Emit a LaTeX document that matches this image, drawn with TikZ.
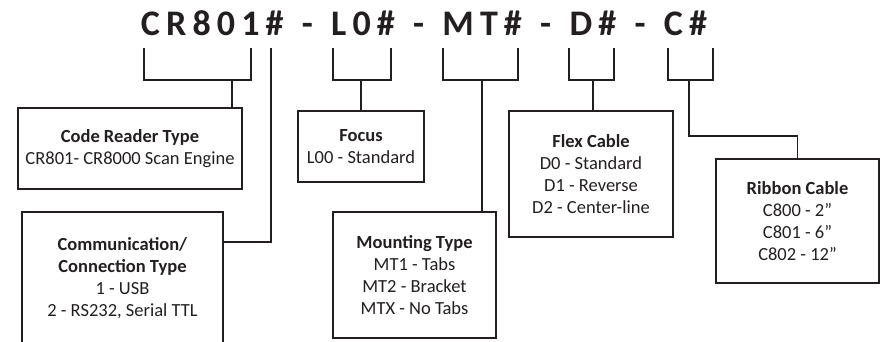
\documentclass[tikz,border=0pt]{standalone}
\usepackage{fontspec}
\setmainfont{Carlito}
\usetikzlibrary{positioning}
\definecolor{InkClr}{RGB}{35,31,32}

\tikzset{
  partbox/.style={draw=InkClr,line width=1.6pt,inner sep=0pt,align=center,
    text=InkClr,font=\fontsize{18.5}{22}\selectfont},
  bracketline/.style={draw=InkClr,line width=1.4pt}
}

\begin{document}
\begin{tikzpicture}[x=1pt,y=-1pt]
\useasboundingbox (0,0) rectangle (886,341);
\clip (0,0) rectangle (886,341);

\node[anchor=base,text=InkClr,font=\fontsize{36}{36}\selectfont\bfseries\addfontfeatures{LetterSpace=17}] (code) at (424,35) {\spaceskip 18.3pt\relax CR801\# - L0\# - MT\# - D\# - C\#};

\node[partbox,minimum width=224pt,minimum height=81pt] (crt) at (130,148.5) {\textbf{Code Reader Type}\\CR801- CR8000 Scan Engine};
\node[partbox,minimum width=201pt,minimum height=132pt] (comm) at (122.5,278) {\textbf{Communication/}\\\textbf{Connection Type}\\1 - USB\\2 - RS232, Serial TTL};
\node[partbox,minimum width=126pt,minimum height=71pt] (focus) at (361,146.5) {\textbf{Focus}\\L00 - Standard};
\node[partbox,minimum width=163pt,minimum height=126pt] (mount) at (414.5,275) {\textbf{Mounting Type}\\MT1 - Tabs\\MT2 - Bracket\\MTX - No Tabs};
\node[partbox,minimum width=164pt,minimum height=126pt] (flex) at (591,174) {\textbf{Flex Cable}\\D0 - Standard\\D1 - Reverse\\D2 - Center-line};
\node[partbox,minimum width=163pt,minimum height=124pt] (ribbon) at (797.5,221) {\textbf{Ribbon Cable}\\C800 - 2”\\C801 - 6”\\C802 - 12”};

\coordinate (crL) at (144,48);
\coordinate (crR) at (251,48);
\coordinate (crJ) at (232,80);
\coordinate (num) at (271,48);
\coordinate (lL) at (333,48);
\coordinate (lR) at (391,48);
\coordinate (lJ) at (361,80);
\coordinate (mL) at (443,48);
\coordinate (mR) at (518,48);
\coordinate (mJ) at (482,80);
\coordinate (dL) at (569,48);
\coordinate (dR) at (614,48);
\coordinate (dJ) at (593,80);
\coordinate (cL) at (668,48);
\coordinate (cR) at (713,48);
\coordinate (cJ) at (689,80);

\draw[bracketline] (crL) |- (crR |- crJ) -- (crR);
\draw[bracketline] (lL) |- (lR |- lJ) -- (lR);
\draw[bracketline] (mL) |- (mR |- mJ) -- (mR);
\draw[bracketline] (dL) |- (dR |- dJ) -- (dR);
\draw[bracketline] (cL) |- (cR |- cJ) -- (cR);

\draw[bracketline] (crJ) -- (crJ |- crt.north);
\draw[bracketline] (lJ) -- (focus.north);
\draw[bracketline] (mJ) -- (mJ |- mount.north);
\draw[bracketline] (dJ) -- (dJ |- flex.north);
\draw[bracketline] (num) |- ([yshift=36pt]comm.east);
\draw[bracketline] (cJ) -- ++(0,56) -| (ribbon.north);

\end{tikzpicture}
\end{document}
